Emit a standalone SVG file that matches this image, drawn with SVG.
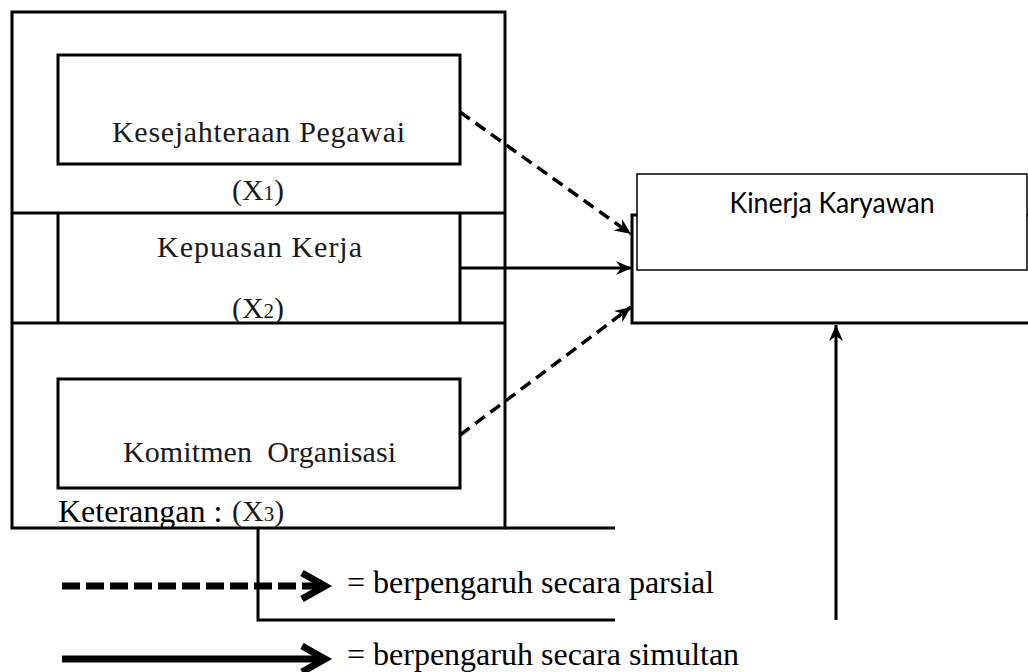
<svg xmlns="http://www.w3.org/2000/svg" width="1028" height="672" viewBox="0 0 1028 672">
<style>
.ln{fill:none;stroke:#000;stroke-width:3}
.box{fill:#fff;stroke:#000;stroke-width:3}
.lbl{font-family:"Liberation Serif","Times New Roman",serif;font-size:30px;fill:#1a1a1a;white-space:pre}
.leg{font-family:"Liberation Serif","Times New Roman",serif;font-size:32px;fill:#000}
.kin{font-family:Lato,"Liberation Sans",sans-serif;font-size:29px;fill:#000}
.dash{fill:none;stroke:#000;stroke-width:3.5;stroke-dasharray:12 7}
</style>
<defs>
<marker id="ah" markerUnits="userSpaceOnUse" markerWidth="18" markerHeight="16" refX="16" refY="8" orient="auto">
<path d="M0,1 L16,8 L0,15 L5,8 z" fill="#000"/>
</marker>
</defs>

<g id="frame">
<rect x="12" y="12" width="493" height="516" class="ln"/>
<line x1="12" y1="213" x2="505" y2="213" class="ln"/>
<line x1="12" y1="323" x2="505" y2="323" class="ln"/>
<line x1="505" y1="528" x2="615" y2="528" class="ln"/>
<polyline points="258,528 258,620 615,620" class="ln"/>
</g>

<g id="node-x1">
<rect x="58" y="55" width="402" height="109" class="box"/>
<text x="112" y="142" class="lbl" textLength="293" lengthAdjust="spacing">Kesejahteraan Pegawai</text>
<text x="258" y="200" class="lbl" text-anchor="middle">(X<tspan font-size="21">1</tspan>)</text>
</g>

<g id="node-x2">
<line x1="58" y1="213" x2="58" y2="323" class="ln"/>
<line x1="460" y1="213" x2="460" y2="323" class="ln"/>
<text x="157" y="257" class="lbl" textLength="205" lengthAdjust="spacing">Kepuasan Kerja</text>
<text x="258" y="318" class="lbl" text-anchor="middle">(X<tspan font-size="21">2</tspan>)</text>
</g>

<g id="node-x3">
<rect x="58" y="379" width="402" height="109" class="box"/>
<text x="123" y="462" class="lbl" textLength="273" lengthAdjust="spacing">Komitmen  Organisasi</text>
</g>

<g id="node-y">
<rect x="632" y="215" width="410" height="108" class="ln"/>
<rect x="637" y="174" width="390" height="96" fill="#fff" stroke="#000" stroke-width="1.5"/>
<text x="832" y="213" class="kin" text-anchor="middle" textLength="205" lengthAdjust="spacingAndGlyphs">Kinerja Karyawan</text>
</g>

<g id="connectors">
<line x1="460" y1="112" x2="631" y2="234" class="dash" marker-end="url(#ah)"/>
<line x1="460" y1="268" x2="632" y2="268" class="ln" marker-end="url(#ah)"/>
<line x1="460" y1="435" x2="631" y2="307" class="dash" marker-end="url(#ah)"/>
<line x1="836" y1="620" x2="836" y2="325" class="ln" marker-end="url(#ah)"/>
</g>

<g id="legend">
<text x="58" y="522" class="leg">Keterangan :</text>
<text x="232" y="521" class="lbl">(X<tspan font-size="21">3</tspan>)</text>
<line x1="62" y1="586" x2="318" y2="586" fill="none" stroke="#000" stroke-width="7" stroke-dasharray="18 6"/>
<polyline points="302,573 325,586 302,599" fill="none" stroke="#000" stroke-width="7"/>
<text x="347" y="593" class="leg">= berpengaruh secara parsial</text>
<line x1="62" y1="659" x2="320" y2="659" fill="none" stroke="#000" stroke-width="7"/>
<polyline points="302,646 325,659 302,672" fill="none" stroke="#000" stroke-width="7"/>
<text x="347" y="665" class="leg">= berpengaruh secara simultan</text>
</g>
</svg>
